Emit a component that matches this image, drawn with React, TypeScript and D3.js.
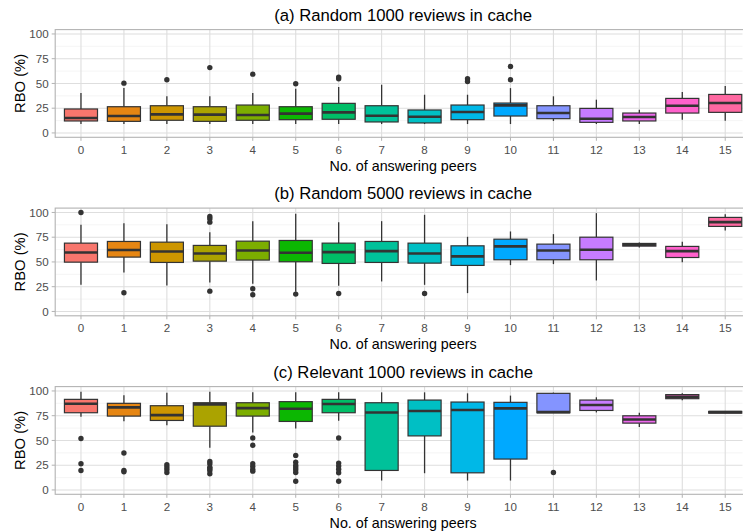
import * as d3 from "d3";

const WIDTH = 743;
const HEIGHT = 531;
const FONT = "'Liberation Sans', Arial, Helvetica, sans-serif";

const peers = ["0", "1", "2", "3", "4", "5", "6", "7", "8", "9", "10", "11", "12", "13", "14", "15"];
const fills = [
  "#F8766D", "#E68613", "#CD9600", "#ABA300", "#7CAE00", "#0CB702", "#00BE67", "#00C19A",
  "#00BFC4", "#00B8E7", "#00A9FF", "#8494FF", "#C77CFF", "#ED68ED", "#FF61CC", "#FF68A1",
];
const yTicks = [0, 25, 50, 75, 100];
const yMinor = [12.5, 37.5, 62.5, 87.5];

const titles = [
  "(a) Random 1000 reviews in cache",
  "(b) Random 5000 reviews in cache",
  "(c) Relevant 1000 reviews in cache",
];

// [lower whisker, Q1, median, Q3, upper whisker]
const statsA = [
  [9, 12.1, 15.1, 24.2, 40.3],
  [9, 11.7, 17.1, 26.5, 45.3],
  [9, 12.8, 18.8, 27.5, 37],
  [9, 11.7, 18.5, 26.5, 37],
  [9, 12.8, 18.1, 28.2, 40.3],
  [9, 13.4, 19.5, 26.5, 44.6],
  [9, 13.8, 20.8, 29.9, 46.3],
  [9, 11.1, 17.4, 27.5, 48.7],
  [9, 10.1, 16.4, 23.2, 38.6],
  [9, 13.4, 21.1, 28.2, 38.6],
  [9, 17.1, 27.9, 30.2, 45.3],
  [12.1, 14.4, 20.1, 27.5, 37],
  [9, 10.7, 14.4, 24.8, 33.6],
  [9, 12.1, 16.1, 20.1, 23.5],
  [13.4, 20.1, 27.5, 34.9, 41.3],
  [12.4, 20.8, 30.2, 38.9, 47.3],
];
const outliersA = [
  [], [50.3], [53.7], [66], [59.4], [49.7], [56.4, 54.7], [],
  [], [54.7, 52], [67.1, 53.7], [], [], [], [], [],
];

const statsB = [
  [26.9, 49.8, 59.6, 69, 87.5],
  [39.4, 54.9, 62, 70.7, 89.2],
  [26.3, 49.5, 60.6, 70, 88.2],
  [29.3, 50.8, 58.6, 66.7, 80.1],
  [27.9, 51.9, 61.6, 71, 91.2],
  [20, 50.2, 59.3, 71.7, 98.7],
  [25.9, 48.5, 59.9, 69, 90.2],
  [30.3, 49.5, 60.9, 70.7, 91.2],
  [26.9, 48.8, 58.6, 69, 97.6],
  [18.5, 46.5, 55.6, 66.3, 75.4],
  [46.8, 52.2, 65.7, 73, 80.8],
  [47.8, 52.2, 61.6, 68, 78.1],
  [31.3, 52.2, 62.3, 75, 99.3],
  [64.6, 66, 67.3, 68.7, 69.7],
  [49.8, 54.5, 60.9, 65.7, 70.4],
  [81.8, 85.9, 90.2, 95, 98.3],
];
const outliersB = [
  [100], [18.9], [], [96, 93.6, 90.2, 20.5], [22.9, 16.8], [17.5], [18.2], [],
  [18.2], [], [], [], [], [], [], [],
];

const statsC = [
  [73.9, 78, 87.1, 91.5, 99.3],
  [69.5, 74.6, 83.4, 87.5, 95.6],
  [65.4, 70.2, 75.6, 85.1, 98.3],
  [42.7, 64.4, 86.4, 88.1, 99.3],
  [58, 74.6, 82.7, 88.1, 98.6],
  [62, 69.2, 82, 89.2, 98.6],
  [69.8, 78, 86.8, 91.5, 98.6],
  [9.5, 19.7, 78.3, 88.1, 98.6],
  [16.9, 54.6, 79.7, 90.8, 98.6],
  [9.5, 17.3, 80.7, 88.8, 97.6],
  [9.5, 31.2, 82.4, 88.5, 95.3],
  [78, 78, 78.6, 97.6, 98.3],
  [78.3, 80.3, 85.8, 90.8, 93.6],
  [63.7, 67.5, 71.2, 74.9, 78],
  [90.5, 92.2, 94.2, 96.3, 97.6],
  [77.6, 77.6, 78.6, 79.3, 79.3],
];
const outliersC = [
  [51.9, 26.4, 19.7],
  [37.3, 19.7, 18.3],
  [25.4, 23.1, 20.7, 17.6],
  [28.8, 26.4, 23, 21.4, 19.7, 16.3],
  [52.5, 45.1, 26.4, 23.7, 20.7, 19],
  [34.9, 28.1, 24.7, 22.4, 20.3, 17.6, 8.8],
  [52.5, 27.1, 24.1, 21, 17.3, 8.8],
  [], [], [], [], [17.6], [], [], [], [],
];

const panelStats = [statsA, statsB, statsC];
const panelOutliers = [outliersA, outliersB, outliersC];

const LEFT = 55.2;
const RIGHT_FULL = 751;
const RIGHT_VISIBLE = 742.5;
const PANEL_H = 107.7;
const PANEL_TOPS = [29.6, 208.1, 386.6];

const x = d3.scalePoint<string>().domain(peers).range([LEFT, RIGHT_FULL]).padding(0.6);
const boxW = x.step() * 0.77;
const midX = (LEFT + RIGHT_FULL) / 2;

function Panel({ idx }: { idx: number }) {
  const top = PANEL_TOPS[idx];
  const bottom = top + PANEL_H;
  const y = d3.scaleLinear().domain([-4.4, 104.4]).range([bottom, top]);
  const stats = panelStats[idx];
  const outs = panelOutliers[idx];
  const ink = "#333333";

  return (
    <g>
      <rect x={LEFT} y={top} width={RIGHT_VISIBLE - LEFT} height={PANEL_H} fill="#ffffff" />
      {yMinor.map((t) => (
        <line key={"m" + t} x1={LEFT} x2={RIGHT_VISIBLE} y1={y(t)} y2={y(t)} stroke="#EFEFEF" strokeWidth={0.6} />
      ))}
      {yTicks.map((t) => (
        <line key={"g" + t} x1={LEFT} x2={RIGHT_VISIBLE} y1={y(t)} y2={y(t)} stroke="#DEDEDE" strokeWidth={1.1} />
      ))}
      {peers.map((p) => (
        <line key={"v" + p} x1={x(p)} x2={x(p)} y1={top} y2={bottom} stroke="#DEDEDE" strokeWidth={1.1} />
      ))}
      {stats.map((s, i) => {
        const cx = x(peers[i]) as number;
        const [lo, q1, med, q3, hi] = s;
        return (
          <g key={"b" + i}>
            <line x1={cx} x2={cx} y1={y(hi)} y2={y(q3)} stroke={ink} strokeWidth={1.3} />
            <line x1={cx} x2={cx} y1={y(q1)} y2={y(lo)} stroke={ink} strokeWidth={1.3} />
            <rect
              x={cx - boxW / 2}
              y={y(q3)}
              width={boxW}
              height={Math.max(0.01, y(q1) - y(q3))}
              fill={fills[i]}
              stroke={ink}
              strokeWidth={1.2}
            />
            <line x1={cx - boxW / 2} x2={cx + boxW / 2} y1={y(med)} y2={y(med)} stroke={ink} strokeWidth={2.6} />
            {outs[i].map((o, j) => (
              <circle key={j} cx={cx} cy={y(o)} r={2.7} fill={ink} />
            ))}
          </g>
        );
      })}
      <rect x={LEFT} y={top} width={RIGHT_VISIBLE - LEFT + 5} height={PANEL_H} fill="none" stroke="#B3B3B3" strokeWidth={1.1} />
      {yTicks.map((t) => (
        <g key={"yt" + t}>
          <line x1={LEFT - 3.5} x2={LEFT} y1={y(t)} y2={y(t)} stroke="#B3B3B3" strokeWidth={1} />
          <text x={LEFT - 6.5} y={y(t)} dy="0.36em" textAnchor="end" fontSize={11.6} fill="#4D4D4D" fontFamily={FONT}>
            {t}
          </text>
        </g>
      ))}
      {peers.map((p) => (
        <g key={"xt" + p}>
          <line x1={x(p)} x2={x(p)} y1={bottom} y2={bottom + 3.5} stroke="#B3B3B3" strokeWidth={1} />
          <text x={x(p)} y={bottom + 16.5} textAnchor="middle" fontSize={11.6} fill="#4D4D4D" fontFamily={FONT}>
            {p}
          </text>
        </g>
      ))}
      <text x={midX} y={top - 8.8} textAnchor="middle" fontSize={16.7} fill="#000000" fontFamily={FONT}>
        {titles[idx]}
      </text>
      <text x={midX} y={bottom + 33.2} textAnchor="middle" fontSize={14.3} fill="#000000" fontFamily={FONT}>
        No. of answering peers
      </text>
      <text
        transform={`translate(24.5,${(top + bottom) / 2}) rotate(-90)`}
        textAnchor="middle"
        fontSize={14.8}
        fill="#000000"
        fontFamily={FONT}
      >
        RBO (%)
      </text>
    </g>
  );
}

export default function App() {
  return (
    <svg
      width={WIDTH}
      height={HEIGHT}
      style={{ position: "absolute", left: 0, top: 0, background: "#ffffff" }}
    >
      <rect width={WIDTH} height={HEIGHT} fill="#ffffff" />
      {[0, 1, 2].map((i) => (
        <Panel key={i} idx={i} />
      ))}
    </svg>
  );
}
